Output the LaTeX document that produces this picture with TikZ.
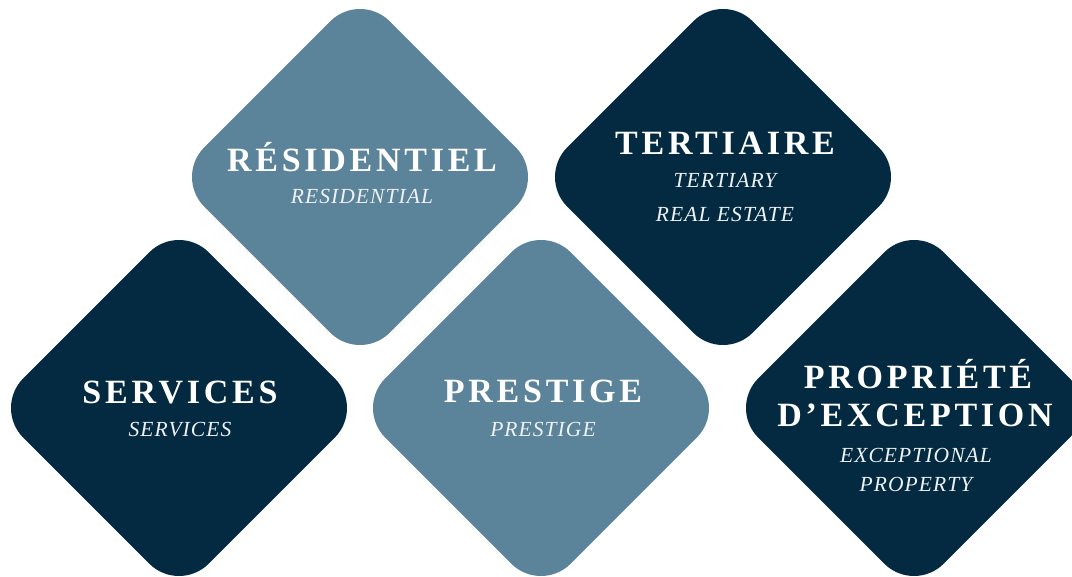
\documentclass[tikz,border=0pt]{standalone}
\usepackage{fontspec}
\setmainfont{Liberation Serif}
\newfontfamily\titlefont{Liberation Serif}[LetterSpace=11]
\newfontfamily\subfont{Liberation Serif}[LetterSpace=5]
\usetikzlibrary{shapes.geometric,calc}
\definecolor{steel}{HTML}{5B8399}
\definecolor{navy}{HTML}{032A40}
\definecolor{subwhite}{HTML}{EEF2F5}
\begin{document}
\begin{tikzpicture}[x=1pt,y=-1pt,
  tile/.style={diamond, aspect=1, minimum width=370.8pt, minimum height=370.8pt,
    inner sep=0pt, outer sep=0pt, rounded corners=42pt, draw=none},
  lighttile/.style={tile, fill=steel},
  darktile/.style={tile, fill=navy},
  ttl/.style={anchor=base, text=white, inner sep=0pt,
    font=\titlefont\bfseries\fontsize{34}{40}\selectfont},
  sub/.style={anchor=base, text=subwhite, inner sep=0pt,
    font=\subfont\itshape\fontsize{21.5}{26}\selectfont}]
\clip (0,0) rectangle (1072,577);
\node[lighttile] (d1) at (360,177) {};
\node[darktile]  (d2) at (723,177) {};
\node[darktile]  (d3) at (179,408) {};
\node[lighttile] (d4) at (541,408) {};
\node[darktile]  (d5) at (914,408) {};
% Residentiel
\node[ttl] (t1) at ($(d1)+(2,-5)$) {RÉSIDENTIEL};
\node[sub] (s1) at ($(d1)+(2,27)$) {RESIDENTIAL};
% Tertiaire
\node[ttl] (t2) at ($(d2)+(2,-22)$) {TERTIAIRE};
\node[sub] (s2a) at ($(d2)+(2,11)$) {TERTIARY};
\node[sub] (s2b) at ($(d2)+(2,45)$) {REAL ESTATE};
% Services
\node[ttl] (t3) at ($(d3)+(1,-4)$) {SERVICES};
\node[sub] (s3) at ($(d3)+(1,29)$) {SERVICES};
% Prestige
\node[ttl] (t4) at ($(d4)+(2,-5)$) {PRESTIGE};
\node[sub] (s4) at ($(d4)+(2,29)$) {PRESTIGE};
% Propriete d'exception
\node[ttl] (t5a) at ($(d5)+(4,-19)$) {PROPRIÉTÉ};
\node[ttl] (t5b) at ($(d5)+(1,19)$) {D’EXCEPTION};
\node[sub] (s5a) at ($(d5)+(2,55)$) {EXCEPTIONAL};
\node[sub] (s5b) at ($(d5)+(2,84)$) {PROPERTY};
\end{tikzpicture}
\end{document}
